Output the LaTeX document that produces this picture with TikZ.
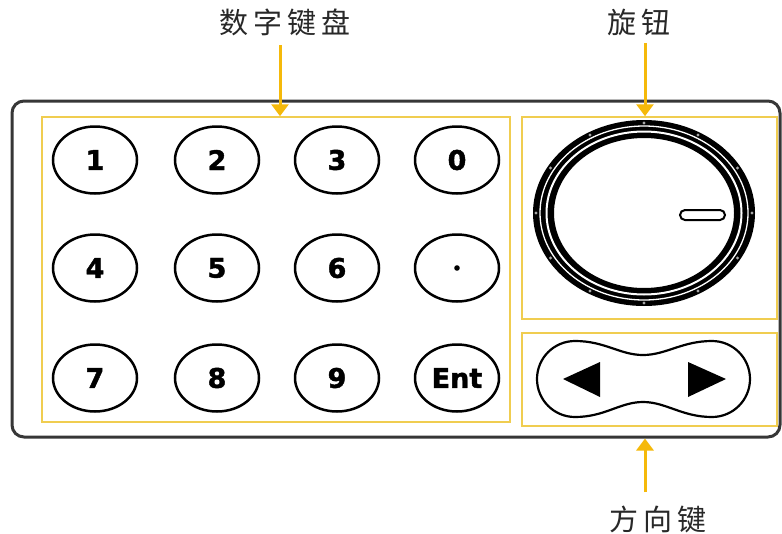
\documentclass[tikz,border=0pt]{standalone}
\usepackage{fontspec}
\newfontfamily\cjk{Noto Sans CJK SC}
\newfontfamily\keyfont{DejaVu Sans Bold}[FakeBold=1.6]
\usetikzlibrary{arrows.meta,shapes.geometric,calc}
\definecolor{panelgray}{RGB}{55,55,55}
\definecolor{zoneyellow}{RGB}{240,205,80}
\definecolor{arrowgold}{RGB}{245,185,10}
\definecolor{labgray}{RGB}{40,40,40}
\begin{document}
\begin{tikzpicture}[x=1pt,y=-1pt,
  panelbox/.style={draw=panelgray, line width=3pt, rounded corners=12pt, inner sep=0pt},
  zone/.style={draw=zoneyellow, line width=1.5pt, inner sep=0pt},
  key/.style={ellipse, draw=black, line width=2.5pt, minimum width=84pt, minimum height=67pt, inner sep=0pt, font=\keyfont\fontsize{27}{27}\selectfont},
  callout/.style={draw=arrowgold, line width=3pt, -{Triangle[width=17pt,length=12pt]}},
  lab/.style={font=\cjk\fontsize{29}{29}\selectfont, text=labgray, inner sep=0pt}]
\useasboundingbox[fill=white] (0,0) rectangle (782,533);
% panel and zones
\node[panelbox, minimum width=768pt, minimum height=336pt] (panel) at (396,269) {};
\node[zone, minimum width=468pt, minimum height=305pt] (keypad) at (276,269.5) {};
\node[zone, minimum width=255pt, minimum height=202pt] (knobzone) at (649.5,218) {};
\node[zone, minimum width=255pt, minimum height=93pt] (dirzone) at (649.5,379.5) {};
% keys
\node[key] (k1) at (95,160) {1};
\node[key] (k2) at (217,160) {2};
\node[key] (k3) at (337,160) {3};
\node[key] (k0) at (457,160) {0};
\node[key] (k4) at (95,268) {4};
\node[key] (k5) at (217,268) {5};
\node[key] (k6) at (337,268) {6};
\node[key] (kdot) at (457,268) {};
\fill (kdot.center) circle (2.8pt);
\node[key] (k7) at (95,378) {7};
\node[key] (k8) at (217,378) {8};
\node[key] (k9) at (337,378) {9};
\node[key] (kent) at (457,378) {Ent};
% knob
\coordinate (knob) at (644,213);
\fill[black, even odd rule] (knob) ellipse [x radius=111pt, y radius=93pt]
  (knob) ellipse [x radius=90pt, y radius=75pt];
\draw[white, line width=1.3pt] (knob) ellipse [x radius=104pt, y radius=87pt];
\draw[white, line width=2pt] (knob) ellipse [x radius=97.5pt, y radius=81.5pt];
\foreach \a in {0,30,...,330}
  \fill[gray!70] ($(knob)+({108*cos(\a)},{90*sin(\a)})$) circle (1.6pt);
\draw[black, line width=2pt, fill=white, rounded corners=5pt] (680,210) rectangle (725,220);
% direction keys
\draw[black, line width=2.2pt] (575,341) .. controls (605,341) and (620,355) .. (643,355)
  .. controls (666,355) and (682,341) .. (712,341)
  .. controls (733,341) and (750,358) .. (750,379)
  .. controls (750,400) and (733,417) .. (712,417)
  .. controls (682,417) and (666,402) .. (643,402)
  .. controls (620,402) and (605,417) .. (575,417)
  .. controls (554,417) and (537,400) .. (537,379)
  .. controls (537,358) and (554,341) .. (575,341) -- cycle;
\fill[black] (563,379) -- (600,362) -- (600,397) -- cycle;
\fill[black] (726,379) -- (688,362) -- (688,397) -- cycle;
% labels and callouts
\node[lab] (lkeypad) at (285,22) {数\hspace{5pt}字\hspace{5pt}键\hspace{5pt}盘};
\node[lab] (lknob) at (639,22) {旋\hspace{5pt}钮};
\node[lab] (ldir) at (658,519) {方\hspace{5pt}向\hspace{5pt}键};
\coordinate (a1) at (280,45);
\coordinate (a2) at (645,43);
\coordinate (a3) at (645,492);
\draw[callout] (a1) -- (a1 |- keypad.north);
\draw[callout] (a2) -- (a2 |- knobzone.north);
\draw[callout] (a3) -- (a3 |- panel.south);
\end{tikzpicture}
\end{document}
